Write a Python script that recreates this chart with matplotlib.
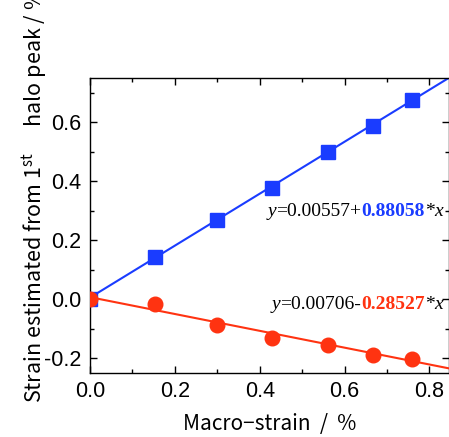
import numpy as np
import matplotlib
matplotlib.use("Agg")
import matplotlib.pyplot as plt
from matplotlib.offsetbox import TextArea, HPacker, AnnotationBbox
from matplotlib.ticker import MultipleLocator

# data
macro_strain = [0.0, 0.153, 0.299, 0.430, 0.562, 0.668, 0.758]
strain_blue = [0.0, 0.142, 0.268, 0.376, 0.498, 0.588, 0.675]
strain_red = [0.0, -0.017, -0.088, -0.132, -0.156, -0.190, -0.203]

fit_blue = (0.00557, 0.88058)
fit_red = (0.00706, -0.28527)

xticks = [0.0, 0.2, 0.4, 0.6, 0.8]
yticks = [-0.2, 0.0, 0.2, 0.4, 0.6]

blue = "#1a3cff"
red = "#ff3311"

plt.rcParams["axes.unicode_minus"] = False

fig = plt.figure(figsize=(4.49, 4.37), dpi=100)
ax = fig.add_axes([90 / 449, 64 / 437, 358.5 / 449, 295 / 437])

xl = (0.0, 0.845)
xx = np.array(xl)
ax.plot(xx, fit_blue[0] + fit_blue[1] * xx, color=blue, lw=1.5, zorder=2)
ax.plot(macro_strain, strain_blue, "s", color=blue, ms=9.5, zorder=3)
ax.plot(xx, fit_red[0] + fit_red[1] * xx, color=red, lw=1.5, zorder=4)
ax.plot(macro_strain, strain_red, "o", color=red, ms=10.5, zorder=5)

ax.set_xlim(*xl)
ax.set_ylim(-0.25, 0.75)
ax.set_xticks(xticks)
ax.set_yticks(yticks)
ax.xaxis.set_minor_locator(MultipleLocator(0.1))
ax.yaxis.set_minor_locator(MultipleLocator(0.1))
ax.tick_params(which="both", direction="in", top=True, right=True, width=1)
ax.tick_params(which="major", length=5, labelsize=15.5, pad=6)
ax.tick_params(which="minor", length=3)
for lab in ax.get_xticklabels() + ax.get_yticklabels():
    lab.set_family("Liberation Sans")
for s in ax.spines.values():
    s.set_linewidth(1)

ax.set_xlabel("Macro\u2212strain  /  %", fontsize=15, family="Noto Sans CJK JP", labelpad=8)
ax.set_ylabel("Strain estimated from 1$^{\\mathregular{st}}$\u3000 halo peak / %",
              fontsize=15.5, family="Noto Sans CJK JP")
ax.yaxis.set_label_coords(-0.112, 0.60)


def equation(parts, xy):
    boxes = [TextArea(t, textprops=dict(family="Liberation Serif", size=14, color=c,
                                        style=st, weight=w))
             for t, c, st, w in parts]
    pack = HPacker(children=boxes, align="baseline", pad=0, sep=0)
    ab = AnnotationBbox(pack, xy, xycoords="axes fraction", box_alignment=(1, 0),
                        frameon=False, pad=0)
    ax.add_artist(ab)


equation([("y", "black", "italic", "normal"),
          ("=0.00557+", "black", "normal", "normal"),
          ("0.88058", blue, "normal", "bold"),
          ("*", "black", "normal", "normal"),
          ("x", "black", "italic", "normal")], (0.985, 0.52))
equation([("y", "black", "italic", "normal"),
          ("=0.00706-", "black", "normal", "normal"),
          ("0.28527", red, "normal", "bold"),
          ("*", "black", "normal", "normal"),
          ("x", "black", "italic", "normal")], (0.985, 0.205))

fig.savefig("out.png", dpi=100)
